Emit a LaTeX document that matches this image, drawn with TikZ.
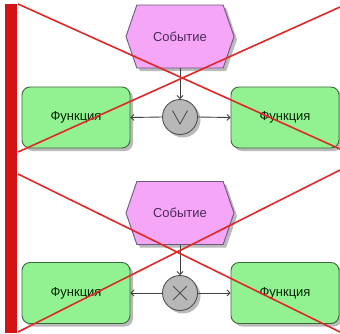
\documentclass[tikz,border=0pt]{standalone}
\usepackage{fontspec}
\setmainfont{Liberation Sans}
\usetikzlibrary{shapes.symbols,shadows,arrows.meta,calc}
\definecolor{evfill}{HTML}{F6A6F6}
\definecolor{evdraw}{HTML}{6A5A80}
\definecolor{evtext}{HTML}{4A2A5A}
\definecolor{fnfill}{HTML}{92F292}
\definecolor{fndraw}{HTML}{3A6A3A}
\definecolor{gtfill}{HTML}{B8B8B8}
\definecolor{gtdraw}{HTML}{505050}
\definecolor{lnc}{HTML}{404040}
\definecolor{redx}{HTML}{E02828}
\definecolor{redbar}{HTML}{D41414}
\tikzset{
  shd/.style={drop shadow={shadow xshift=3pt, shadow yshift=-3pt, fill=gray!90, opacity=0.6}},
  evbox/.style={shape=signal, signal to=east and west, signal pointer angle=142,
    minimum width=108pt, minimum height=63pt, inner sep=0pt, fill=evfill, draw=evdraw,
    line width=0.9pt, text=evtext, font=\fontsize{13}{15}\selectfont, shd},
  fnbox/.style={rectangle, rounded corners=8pt, minimum width=108pt, minimum height=61pt,
    inner sep=0pt, fill=fnfill, draw=fndraw, line width=0.9pt, text=black!85!green,
    font=\fontsize{13}{15}\selectfont, shd},
  gate/.style={circle, minimum size=35pt, inner sep=0pt, fill=gtfill, draw=gtdraw, line width=0.9pt, shd},
  conn/.style={draw=lnc, line width=0.9pt, -{Straight Barb[length=3pt,width=6pt]}},
  sym/.style={draw=gtdraw, line width=0.9pt},
  crossline/.style={draw=redx, line width=1.6pt}
}
\begin{document}
\begin{tikzpicture}[x=1pt,y=-1pt]
\useasboundingbox (0,0) rectangle (340,333);
\fill[white] (0,0) rectangle (340,333);
% top panel
\node[evbox] (ev1) at (180,36.5) {Событие};
\node[gate] (g1) at (180,117) {};
\node[fnbox] (f1l) at (76,117.5) {Функция};
\node[fnbox] (f1r) at (285,117.5) {Функция};
\draw[conn] (ev1.south) -- (g1.north);
\draw[conn] (g1.west) -- (f1l.east);
\draw[conn] (g1.east) -- (f1r.west);
\draw[sym] ($(g1)+(-7.5,-6.5)$) -- ($(g1)+(0,7)$) -- ($(g1)+(7.5,-6.5)$);
% bottom panel
\node[evbox] (ev2) at (180,213) {Событие};
\node[gate] (g2) at (180,293) {};
\node[fnbox] (f2l) at (76,293) {Функция};
\node[fnbox] (f2r) at (285,293) {Функция};
\draw[conn] (ev2.south) -- (g2.north);
\draw[conn] (g2.west) -- (f2l.east);
\draw[conn] (g2.east) -- (f2r.west);
\draw[sym] ($(g2)+(-7,-7)$) -- ($(g2)+(7,7)$);
\draw[sym] ($(g2)+(-7,7)$) -- ($(g2)+(7,-7)$);
% red crosses
\coordinate (a1) at (18,4);
\coordinate (b1) at (340,149);
\coordinate (c1) at (18,152);
\coordinate (d1) at (340,7);
\draw[crossline] (a1) -- (b1);
\draw[crossline] (c1) -- (d1);
\coordinate (a2) at (18,174);
\coordinate (b2) at (340,332);
\coordinate (c2) at (18,332);
\coordinate (d2) at (340,170);
\draw[crossline] (a2) -- (b2);
\draw[crossline] (c2) -- (d2);
% red bar
\fill[redbar] (5,4) rectangle (17,333);
\end{tikzpicture}
\end{document}
